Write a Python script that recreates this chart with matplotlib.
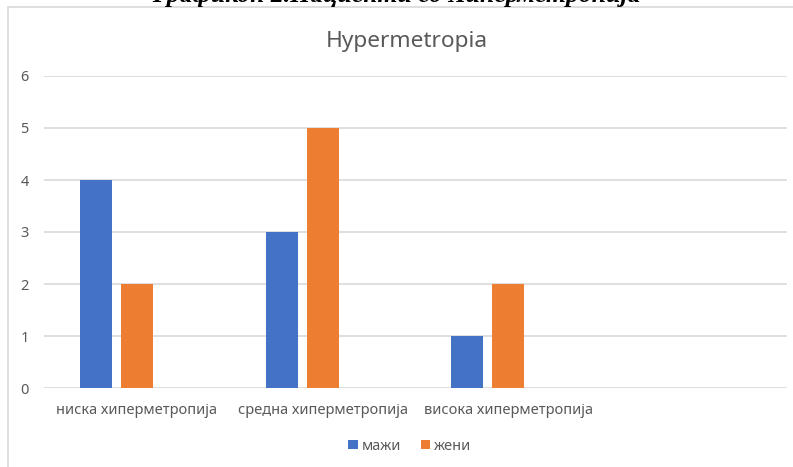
import matplotlib
matplotlib.use("Agg")
import matplotlib.pyplot as plt
from matplotlib.patches import Rectangle
import numpy as np

# categories (last slot is empty in the source sheet)
categories = ["ниска хиперметропија", "средна хиперметропија", "висока хиперметропија", ""]
mazhi = [4, 3, 1, 0]
zheni = [2, 5, 2, 0]
series_names = ["мажи", "жени"]

BLUE = "#4472C4"
ORANGE = "#ED7D31"
GREY = "#595959"
GRID = "#D9D9D9"

plt.rcParams['font.family'] = ['Noto Sans', 'DejaVu Sans']

fig = plt.figure(figsize=(7.93, 4.67), dpi=100)
W, H = 793, 467

# outer chart frame
fig.patches.append(Rectangle((8 / W, -0.1), 1.2, (H - 7) / H + 0.1,
                             transform=fig.transFigure, fill=False,
                             edgecolor=GRID, linewidth=1.2))

# caption above the chart frame (clipped at the top)
fig.text(0.5, 1 + 4 / H, "Графикон 2.Пациенти со Хиперметропија",
         ha="center", va="center", fontsize=18.5, fontweight="bold",
         fontstyle="italic", family=["Liberation Serif", "DejaVu Serif"])

ax = fig.add_axes([44 / W, (H - 388) / H, (787 - 44) / W, (388 - 76) / H])

x = np.arange(len(categories))
w = 0.173
step = 0.221
ax.bar(x - step, mazhi, width=w, color=BLUE, label=series_names[0], zorder=3)
ax.bar(x, zheni, width=w, color=ORANGE, label=series_names[1], zorder=3)

ax.set_xlim(-0.5, len(categories) - 0.5)
ax.set_ylim(0, 6)
ax.set_yticks(range(0, 7))
ax.set_xticks(x)
ax.set_xticklabels(categories)
ax.tick_params(axis="both", length=0, labelsize=10.5, colors=GREY)
ax.tick_params(axis="y", pad=11)
ax.tick_params(axis="x", pad=11)
ax.yaxis.grid(True, color=GRID, linewidth=1.2, zorder=0)
for s in ax.spines.values():
    s.set_visible(False)

fig.text(407 / W, 1 - 42 / H, "Hypermetropia", ha="center", va="center",
         fontsize=16.3, color=GREY)

fig.legend(loc="center", bbox_to_anchor=(410 / W, 1 - 446 / H), ncol=2,
           frameon=False, fontsize=10.5, labelcolor=GREY, handlelength=0.65,
           handleheight=0.65, handletextpad=0.3, columnspacing=1.3)

fig.savefig("out.png", dpi=100)
